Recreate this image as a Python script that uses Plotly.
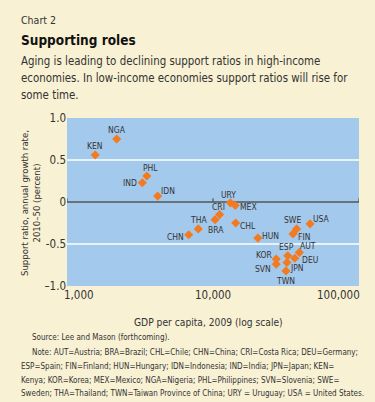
import math
import plotly.graph_objects as go

countries = ["KEN","NGA","PHL","IND","IDN","CHN","THA","BRA","CRI","URY","MEX","CHL","HUN",
             "SWE","FIN","USA","AUT","ESP","DEU","KOR","SVN","JPN","TWN"]
gdp = [1560, 2190, 3520, 3280, 4180, 6820, 7930, 10330, 11100, 13150, 14200, 14300, 20300,
       37400, 35300, 46200, 39000, 32500, 36300, 27100, 27100, 32100, 31600]
ratio = [0.56, 0.75, 0.31, 0.23, 0.07, -0.39, -0.32, -0.21, -0.15, -0.01, -0.04, -0.25, -0.43,
         -0.32, -0.38, -0.26, -0.60, -0.64, -0.67, -0.68, -0.74, -0.72, -0.82]
# label offsets in pixels (dx, dy-down) relative to each marker
label_off = {"KEN":(0,-9),"NGA":(0,-9),"PHL":(4,-8),"IND":(-12,0),"IDN":(10,-5),
             "CHN":(-13,2),"THA":(0,-9),"BRA":(1,10),"CRI":(-1,-8),"URY":(-2,-8),
             "MEX":(13,2),"CHL":(12,3),"HUN":(13,-2),"SWE":(-4,-9),"FIN":(11,3),
             "USA":(11,-5),"AUT":(9,-6),"ESP":(-1,-9),"DEU":(15,2),"KOR":(-12,-4),
             "SVN":(-13,5),"JPN":(10,6),"TWN":(0,10)}

ytick_vals = [-1.0, -0.5, 0, 0.5, 1.0]
ytick_text = ["\u20131.0", "-0.5", "0", "0.5", "1.0"]
xtick_vals = [1000, 10000, 100000]
xtick_text = ["1,000", "10,000", "100,000"]

BG = "#F8F1D3"
PLOT = "#A3C9EC"
ORANGE = "#F47A20"
TXT = "#333333"
NARROW = "DejaVu Sans Condensed, Liberation Sans Narrow, sans-serif"

fig = go.Figure()
fig.add_trace(go.Scatter(
    x=gdp, y=ratio, mode="markers",
    marker=dict(symbol="diamond", size=7, color=ORANGE),
    cliponaxis=False, hoverinfo="skip"))

for c, gx, ry in zip(countries, gdp, ratio):
    dx, dy = label_off[c]
    fig.add_annotation(text=c, x=math.log10(gx), y=ry, xref="x", yref="y",
                       xanchor="center", yanchor="middle", xshift=dx, yshift=-dy,
                       showarrow=False, font=dict(family=NARROW, size=8.5, color=TXT))

shapes = []
for v in [-0.5, 0.5]:
    shapes.append(dict(type="line", xref="paper", x0=0, x1=1, yref="y", y0=v, y1=v,
                       line=dict(color="white", width=1.5), layer="below"))
shapes.append(dict(type="line", xref="paper", x0=0, x1=1, yref="y", y0=0, y1=0,
                   line=dict(color="#555555", width=1.3), layer="below"))
for xv in xtick_vals:
    shapes.append(dict(type="line", xref="x", x0=xv, x1=xv, yref="y", y0=0, y1=0.045,
                       line=dict(color="#555555", width=1.2), layer="below"))

fig.update_layout(
    width=375, height=402, paper_bgcolor=BG, plot_bgcolor=PLOT,
    margin=dict(l=67, r=16, t=118, b=116), showlegend=False, shapes=shapes,
    xaxis=dict(type="log", range=[3, 5], tickvals=xtick_vals, showticklabels=False,
               showgrid=False, zeroline=False, showline=False, ticks="", automargin=False),
    yaxis=dict(range=[-1, 1], tickvals=ytick_vals, ticktext=ytick_text,
               showgrid=False, zeroline=False, showline=False, ticks="", automargin=False,
               tickfont=dict(family=NARROW, size=11.5, color=TXT)),
)

# x tick labels (first left-aligned-ish, last kept inside the frame as in the original)
xlab_anchor = ["left", "center", "right"]
xlab_shift = [-5, 0, 3]
for v, t, an, sh in zip(xtick_vals, xtick_text, xlab_anchor, xlab_shift):
    fig.add_annotation(text=t, x=math.log10(v), xref="x", y=0, yref="paper",
                       xanchor=an, yanchor="middle", xshift=sh, yshift=-9, showarrow=False,
                       font=dict(family=NARROW, size=11.5, color=TXT))

pw = 375 - 67 - 16
ph = 402 - 118 - 116
ann = [
    dict(text="Chart 2", x=19, y=20, size=10.5, color=TXT),
    dict(text="<b>Supporting roles</b>", x=19, y=40, size=13.5, color="#111111"),
    dict(text="Aging is leading to declining support ratios in high-income", x=19, y=61, size=11.4, color=TXT),
    dict(text="economies. In low-income economies support ratios will rise for", x=19, y=78, size=11.4, color=TXT),
    dict(text="some time.", x=19, y=95, size=11.4, color=TXT),
    dict(text="Source: Lee and Mason (forthcoming).", x=30, y=337, size=8, color=TXT),
    dict(text="Note: AUT=Austria; BRA=Brazil; CHL=Chile; CHN=China; CRI=Costa Rica; DEU=Germany;", x=30, y=352, size=8, color=TXT),
    dict(text="ESP=Spain; FIN=Finland; HUN=Hungary; IDN=Indonesia; IND=India; JPN=Japan; KEN=", x=19, y=366, size=8, color=TXT),
    dict(text="Kenya; KOR=Korea; MEX=Mexico; NGA=Nigeria; PHL=Philippines; SVN=Slovenia; SWE=", x=19, y=380, size=8, color=TXT),
    dict(text="Sweden; THA=Thailand; TWN=Taiwan Province of China; URY = Uruguay; USA = United States.", x=19, y=393, size=8, color=TXT),
]
for a in ann:
    fig.add_annotation(text=a["text"], xref="paper", yref="paper",
                       x=(a["x"] - 67) / pw, y=(402 - 116 - a["y"]) / ph,
                       xanchor="left", yanchor="middle", showarrow=False,
                       font=dict(family=NARROW, size=a["size"], color=a["color"]))

# axis titles
fig.add_annotation(text="GDP per capita, 2009 (log scale)", xref="paper", yref="paper",
                   x=(208 - 67) / pw, y=(402 - 116 - 322) / ph, xanchor="center", yanchor="middle",
                   showarrow=False, font=dict(family=NARROW, size=10.2, color=TXT))
fig.add_annotation(text="Support ratio, annual growth rate,<br>2010\u201350 (percent)",
                   xref="paper", yref="paper", x=(30 - 67) / pw, y=(402 - 116 - 203) / ph,
                   xanchor="center", yanchor="middle", textangle=-90, showarrow=False,
                   font=dict(family=NARROW, size=9.5, color=TXT))

fig.write_html("out.html", config={"displayModeBar": False},
               post_script="document.body.style.margin='0';document.body.style.overflow='hidden';")
